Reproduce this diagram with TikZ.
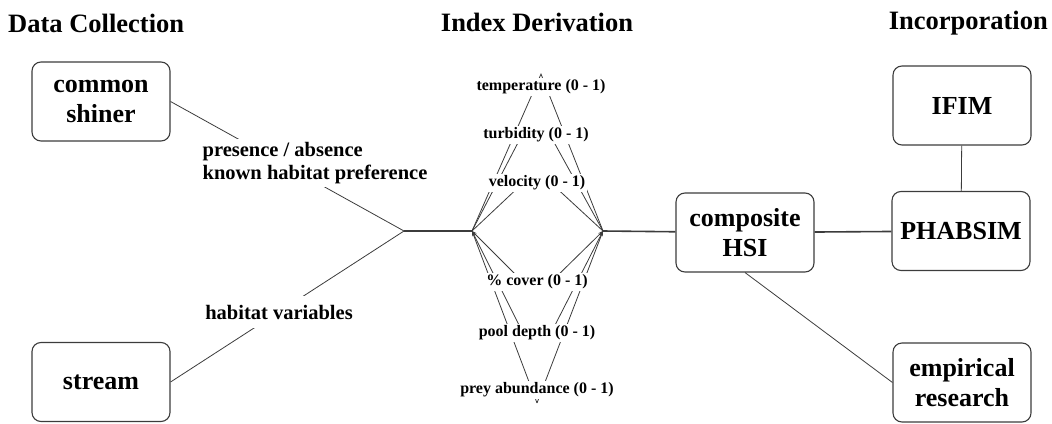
\documentclass[tikz,border=0pt]{standalone}
\usepackage{fontspec}
\setmainfont{Liberation Serif}
\usetikzlibrary{arrows.meta,backgrounds}
\definecolor{ln}{RGB}{60,60,60}
\begin{document}
\begin{tikzpicture}[x=1pt,y=-1pt,
  box/.style={draw=ln,line width=1.1pt,rounded corners=9pt,minimum width=138pt,minimum height=79pt,align=center,font=\fontsize{26}{30}\selectfont\bfseries},
  ttl/.style={inner sep=0pt,font=\fontsize{26.5}{30}\selectfont\bfseries},
  mid/.style={fill=white,align=left,inner sep=3pt,font=\fontsize{20.5}{23}\selectfont\bfseries},
  sm/.style={fill=white,inner sep=1.5pt,font=\fontsize{16}{18}\selectfont\bfseries},
  thin/.style={draw=ln,line width=0.8pt},
  thick/.style={draw=ln,line width=1.6pt},
  tip/.style={-{Stealth[length=5pt,width=3.5pt]}}]
\useasboundingbox (0,0) rectangle (1052,423);

\node[ttl,anchor=base west] (tdc) at (8,32) {Data Collection};
\node[ttl,anchor=base] (tid) at (537,31) {Index Derivation};
\node[ttl,anchor=base east] (tin) at (1048,29) {Incorporation};

\node[box] (shiner) at (101,101.5) {common\\shiner};
\node[box] (stream) at (101,382) {stream};
\node[box] (hsi) at (745,232.5) {composite\\HSI};
\node[box] (ifim) at (962,105.5) {IFIM};
\node[box] (phab) at (961,231) {PHABSIM};
\node[box] (emp) at (962,382.5) {empirical\\research};

\coordinate (jn) at (404,231);
\coordinate (hubL) at (472,231);
\coordinate (hubR) at (603,231);

\foreach \n/\x/\y/\t in {1/541/87/temperature,2/536/135/turbidity,3/537/183/velocity,
  4/537/282/{\% cover},5/537/333/pool depth,6/537/390/prey abundance}
  \node[sm] (f\n) at (\x,\y) {\t\ (0 - 1)};
\coordinate (topT) at ([yshift=4pt]f1.north);
\coordinate (botT) at ([yshift=-4pt]f6.south);

\node[mid] (pa) at (315,163) {presence / absence\\known habitat preference};
\node[mid,inner ysep=9pt] (hv) at (279,312) {habitat variables};

\begin{scope}[on background layer]
\draw[thin] (shiner.east) -- (jn);
\draw[thin] (stream.east) -- (jn);
\draw[thick] (jn) -- (hubL);
\draw[thick] (hubR) -- (hsi);
\draw[thin] (hubL) -- (topT) -- (hubR);
\foreach \n in {2,3}
 {\draw[thin] (hubL) -- ([xshift=-14pt]f\n.center);
  \draw[thin] (hubR) -- ([xshift=14pt]f\n.center);
 };
\foreach \n in {4,5}
 {\draw[thin,tip] ([xshift=-14pt]f\n.center) -- (hubL);
  \draw[thin,tip] ([xshift=14pt]f\n.center) -- (hubR);
 };
\draw[thin,tip] (botT) -- (hubL);
\draw[thin,tip] (botT) -- (hubR);
\end{scope}

\draw[thick] (hsi) -- (phab);
\draw[thin] (ifim) -- (phab);
\draw[thin] (hsi.south) -- (emp.west);
\end{tikzpicture}
\end{document}
